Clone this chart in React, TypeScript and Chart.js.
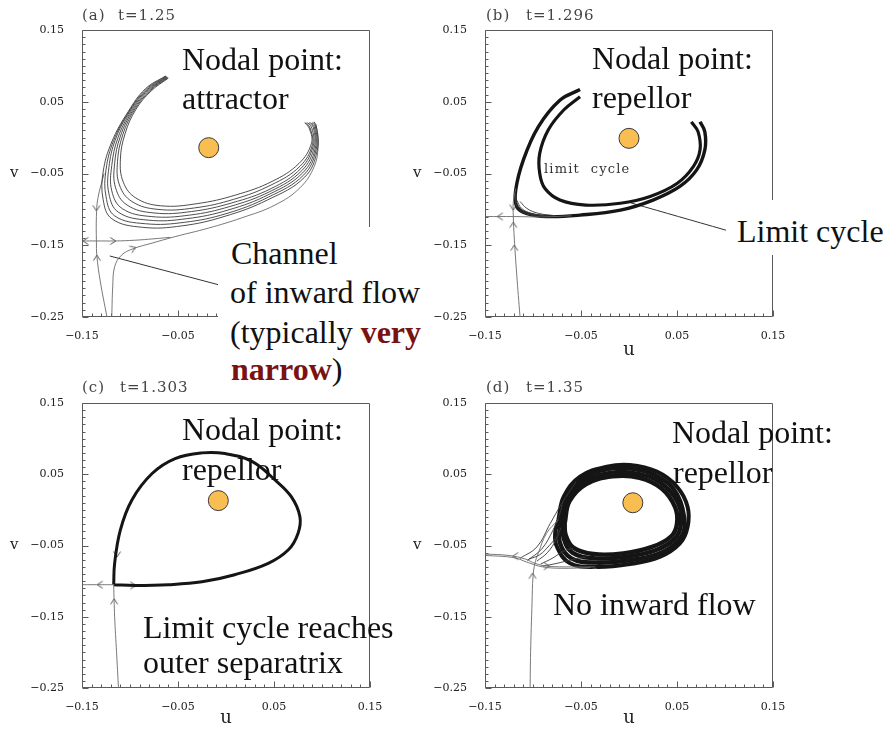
import React, { useEffect, useRef } from 'react';
import { Chart, registerables } from 'chart.js';

Chart.register(...registerables);

type Pt = [number, number];

// ---------------- axes ----------------
const U_MIN = -0.15;
const U_MAX = 0.15;
const V_MIN = -0.25;
const V_MAX = 0.15;
const MINOR_STEP = 0.01;
const U_MAJOR = [-0.15, -0.05, 0.05, 0.15];
const U_LABELS = ['−0.15', '−0.05', '0.05', '0.15'];
const V_MAJOR = [-0.25, -0.15, -0.05, 0.05, 0.15];
const V_LABELS = ['−0.25', '−0.15', '−0.05', '0.05', '0.15'];

// ---------------- panel (a) t=1.25 ----------------
const A_NODE: Pt = [-0.018, -0.014];
const A_C1: Pt[] = [[-0.060,0.083],[-0.078,0.065],[-0.094,0.039],[-0.105,0.006],[-0.110,-0.030],[-0.107,-0.062],[-0.094,-0.084],[-0.068,-0.095],[-0.030,-0.092],[0.010,-0.080],[0.048,-0.061],[0.076,-0.036],[0.089,-0.008],[0.087,0.012],[0.082,0.021]];
const A_C2: Pt[] = [[-0.0605,0.0835],[-0.079,0.0655],[-0.0955,0.0385],[-0.1075,0.004],[-0.113,-0.033],[-0.111,-0.066],[-0.098,-0.089],[-0.071,-0.100],[-0.033,-0.098],[0.008,-0.086],[0.047,-0.066],[0.077,-0.040],[0.090,-0.010],[0.088,0.012],[0.0835,0.021]];
const A_C3: Pt[] = [[-0.061,0.084],[-0.080,0.066],[-0.097,0.038],[-0.110,0.002],[-0.116,-0.036],[-0.115,-0.070],[-0.103,-0.094],[-0.075,-0.105],[-0.036,-0.103],[0.006,-0.091],[0.047,-0.071],[0.078,-0.043],[0.091,-0.011],[0.0895,0.013],[0.085,0.021]];
const A_C4: Pt[] = [[-0.0615,0.0845],[-0.081,0.0665],[-0.0985,0.0375],[-0.1125,0.000],[-0.119,-0.039],[-0.119,-0.074],[-0.108,-0.099],[-0.078,-0.110],[-0.038,-0.108],[0.004,-0.096],[0.046,-0.075],[0.079,-0.046],[0.092,-0.013],[0.091,0.014],[0.0865,0.021]];
const A_C5: Pt[] = [[-0.062,0.085],[-0.082,0.067],[-0.100,0.037],[-0.115,-0.002],[-0.122,-0.042],[-0.122,-0.078],[-0.112,-0.104],[-0.081,-0.115],[-0.041,-0.113],[0.002,-0.101],[0.045,-0.079],[0.080,-0.049],[0.093,-0.015],[0.092,0.015],[0.088,0.021]];
const A_C6: Pt[] = [[-0.0625,0.0855],[-0.083,0.0675],[-0.101,0.0365],[-0.117,-0.004],[-0.125,-0.045],[-0.125,-0.082],[-0.116,-0.109],[-0.084,-0.120],[-0.043,-0.118],[0.000,-0.106],[0.044,-0.083],[0.081,-0.052],[0.094,-0.016],[0.093,0.016],[0.0895,0.021]];
const A_C7: Pt[] = [[-0.063,0.086],[-0.084,0.068],[-0.102,0.036],[-0.119,-0.006],[-0.128,-0.048],[-0.128,-0.086],[-0.119,-0.113],[-0.087,-0.125],[-0.046,-0.123],[-0.002,-0.110],[0.043,-0.087],[0.082,-0.055],[0.095,-0.018],[0.094,0.017],[0.091,0.022]];
const A_CHANNEL: Pt[] = [[-0.119,-0.25],[-0.118,-0.208],[-0.116,-0.180],[-0.109,-0.164],[-0.097,-0.155],[-0.077,-0.147],[-0.053,-0.138],[-0.018,-0.126],[0.016,-0.112],[0.051,-0.094],[0.077,-0.070],[0.092,-0.040],[0.096,-0.012],[0.095,0.010],[0.092,0.022]];
const A_HSEP: Pt[] = [[-0.149,-0.144],[-0.135,-0.144],[-0.115,-0.144],[-0.095,-0.143],[-0.075,-0.141],[-0.058,-0.139]];
const A_VSEP: Pt[] = [[-0.127,-0.050],[-0.1335,-0.085],[-0.135,-0.110],[-0.135,-0.144],[-0.1345,-0.165],[-0.131,-0.200],[-0.124,-0.25]];
const A_POINTER: Pt[] = [[-0.121,-0.165],[-0.008,-0.205]];
const A_ARROWS: Pt[] = [[-0.135,-0.098],[-0.146,-0.144],[-0.118,-0.144],[-0.1345,-0.168],[-0.097,-0.1545]];
const A_ARROW_DIR = [90, 180, 0, -90, -22];

// ---------------- panel (b) t=1.296 ----------------
const B_NODE: Pt = [0.0, -0.001];
const B_OUTER: Pt[] = [[-0.051,0.067],[-0.072,0.052],[-0.0945,0.015],[-0.110,-0.031],[-0.118,-0.073],[-0.117,-0.096],[-0.107,-0.1055],[-0.086,-0.110],[-0.051,-0.108],[-0.009,-0.101],[0.025,-0.087],[0.053,-0.068],[0.0705,-0.045],[0.079,-0.017],[0.079,0.008],[0.074,0.022]];
const B_INNER: Pt[] = [[-0.051,0.057],[-0.068,0.0385],[-0.084,0.011],[-0.093,-0.022],[-0.093,-0.050],[-0.0875,-0.071],[-0.072,-0.087],[-0.045,-0.094],[-0.009,-0.0915],[0.022,-0.082],[0.050,-0.064],[0.067,-0.0405],[0.074,-0.017],[0.072,0.008],[0.065,0.022]];
const B_HSEP: Pt[] = [[-0.149,-0.110],[-0.120,-0.110],[-0.090,-0.1105],[-0.060,-0.109]];
const B_VSEP: Pt[] = [[-0.118,-0.071],[-0.1205,-0.090],[-0.1205,-0.110],[-0.1195,-0.140],[-0.117,-0.190],[-0.1135,-0.25]];
const B_FAN1: Pt[] = [[-0.119,-0.082],[-0.115,-0.096],[-0.1066,-0.1046],[-0.089,-0.109]];
const B_FAN2: Pt[] = [[-0.117,-0.087],[-0.112,-0.0985],[-0.1015,-0.1055],[-0.082,-0.110]];
const B_FAN3: Pt[] = [[-0.1135,-0.089],[-0.1066,-0.0985],[-0.0945,-0.1055],[-0.076,-0.109]];
const B_FAN4: Pt[] = [[-0.118,-0.078],[-0.118,-0.092],[-0.111,-0.104],[-0.095,-0.110]];
const B_POINTER: Pt[] = [[0.002,-0.091],[0.101,-0.129]];
const B_ARROWS: Pt[] = [[-0.134,-0.110],[-0.1205,-0.097],[-0.1205,-0.122],[-0.1195,-0.154]];
const B_ARROW_DIR = [180, 90, -90, -90];

// ---------------- panel (c) t=1.303 ----------------
const C_NODE: Pt = [-0.008, 0.013];
const C_CYCLE: Pt[] = [[-0.117,-0.105],[-0.116,-0.075],[-0.110,-0.028],[-0.098,0.014],[-0.077,0.051],[-0.053,0.072],[-0.025,0.080],[-0.001,0.079],[0.027,0.068],[0.051,0.042],[0.068,0.0185],[0.077,-0.0096],[0.075,-0.033],[0.065,-0.056],[0.044,-0.075],[0.009,-0.091],[-0.025,-0.101],[-0.060,-0.105],[-0.095,-0.106],[-0.117,-0.105]];
const C_HSEP: Pt[] = [[-0.149,-0.105],[-0.130,-0.105],[-0.117,-0.105]];
const C_VSEP: Pt[] = [[-0.117,-0.105],[-0.116,-0.150],[-0.114,-0.200],[-0.112,-0.25]];
const C_ARROWS: Pt[] = [[-0.131,-0.105],[-0.097,-0.106],[-0.1165,-0.129],[-0.1135,-0.062]];
const C_ARROW_DIR = [180, 0, -90, 92];

// ---------------- panel (d) t=1.35 ----------------
const D_NODE: Pt = [0.004, 0.010];
const D_L1: Pt[] = [[-0.067,-0.019],[-0.062,0.012],[-0.045,0.036],[-0.017,0.047],[0.011,0.045],[0.034,0.030],[0.048,0.004],[0.050,-0.019],[0.044,-0.037],[0.024,-0.052],[-0.006,-0.061],[-0.037,-0.062],[-0.058,-0.053],[-0.066,-0.035],[-0.067,-0.019]];
const D_L2: Pt[] = [[-0.069,-0.017],[-0.064,0.015],[-0.047,0.040],[-0.019,0.052],[0.008,0.051],[0.033,0.038],[0.051,0.010],[0.054,-0.020],[0.048,-0.040],[0.027,-0.057],[-0.004,-0.066],[-0.036,-0.068],[-0.059,-0.060],[-0.068,-0.040],[-0.069,-0.017]];
const D_L3: Pt[] = [[-0.071,-0.0155],[-0.066,0.017],[-0.049,0.044],[-0.021,0.0575],[0.004,0.0575],[0.031,0.046],[0.050,0.022],[0.058,-0.022],[0.051,-0.044],[0.030,-0.062],[-0.002,-0.071],[-0.035,-0.074],[-0.060,-0.068],[-0.072,-0.046],[-0.071,-0.0155]];
const D_L4: Pt[] = [[-0.0736,-0.014],[-0.068,0.0185],[-0.051,0.0466],[-0.023,0.0606],[0.001,0.063],[0.029,0.0536],[0.050,0.0325],[0.061,0.0045],[0.061,-0.024],[0.053,-0.047],[0.032,-0.066],[0.001,-0.076],[-0.034,-0.080],[-0.0615,-0.075],[-0.075,-0.052],[-0.077,-0.033],[-0.0736,-0.014]];
const D_H1: Pt[] = [[-0.149,-0.062],[-0.125,-0.064],[-0.108,-0.069],[-0.098,-0.075],[-0.085,-0.079],[-0.060,-0.080],[-0.035,-0.080]];
const D_H2: Pt[] = [[-0.149,-0.064],[-0.120,-0.067],[-0.105,-0.074],[-0.090,-0.080],[-0.070,-0.082],[-0.040,-0.081]];
const D_VSEP: Pt[] = [[-0.103,-0.25],[-0.1025,-0.200],[-0.101,-0.130],[-0.100,-0.094],[-0.098,-0.075],[-0.0945,-0.061],[-0.086,-0.033],[-0.0736,-0.014]];
const D_F1: Pt[] = [[-0.1135,-0.068],[-0.096,-0.052],[-0.082,-0.019],[-0.070,0.009],[-0.055,0.040]];
const D_F2: Pt[] = [[-0.106,-0.071],[-0.091,-0.055],[-0.079,-0.028],[-0.072,-0.005],[-0.069,0.012]];
const D_F3: Pt[] = [[-0.096,-0.072],[-0.085,-0.060],[-0.076,-0.042],[-0.071,-0.025]];
const D_F4: Pt[] = [[-0.092,-0.076],[-0.080,-0.068],[-0.068,-0.058],[-0.058,-0.054]];
const D_F5: Pt[] = [[-0.090,-0.079],[-0.075,-0.075],[-0.060,-0.070],[-0.045,-0.066]];
const D_F6: Pt[] = [[-0.104,-0.069],[-0.093,-0.063],[-0.083,-0.050],[-0.074,-0.036]];
const D_ARROWS: Pt[] = [[-0.118,-0.065],[-0.1005,-0.093],[-0.086,-0.079]];
const D_ARROW_DIR = [180, -90, 0];

// ---------------- chart helpers ----------------
interface LineSpec { pts: Pt[]; color: string; width: number; }
interface PanelSpec {
  lines: LineSpec[];
  arrows: Pt[];
  arrowDir: number[];
  node: Pt;
  yW: number;
  xH: number;
  padTop: number;
  padRight: number;
  titlePad: number;
}

const thin = (pts: Pt[]): LineSpec => ({ pts, color: '#3a3a3a', width: 0.9 });
const sep = (pts: Pt[]): LineSpec => ({ pts, color: '#6a6a6a', width: 0.9 });
const thick = (pts: Pt[], w = 3): LineSpec => ({ pts, color: '#151515', width: w });
const pointer = (pts: Pt[]): LineSpec => ({ pts, color: '#333', width: 1 });

const near = (v: number, list: number[]) => list.findIndex((m) => Math.abs(m - v) < 1e-6);

function chevron(): HTMLCanvasElement {
  const c = document.createElement('canvas');
  c.width = 12;
  c.height = 12;
  const g = c.getContext('2d')!;
  g.strokeStyle = '#555';
  g.lineWidth = 1;
  g.beginPath();
  g.moveTo(3.5, 2.5);
  g.lineTo(9, 6);
  g.lineTo(3.5, 9.5);
  g.stroke();
  return c;
}

const frameTicks = {
  id: 'frameTicks',
  beforeDatasetsDraw(chart: any) {
    const { ctx, chartArea: a, scales } = chart;
    const l = Math.round(a.left) + 0.5;
    const r = Math.round(a.right) - 0.5;
    const t = Math.round(a.top) + 0.5;
    const b = Math.round(a.bottom) - 0.5;
    ctx.save();
    ctx.strokeStyle = '#5a5a5a';
    ctx.lineWidth = 1;
    ctx.beginPath();
    ctx.moveTo(l, t); ctx.lineTo(r, t); ctx.lineTo(r, b); ctx.lineTo(l, b); ctx.closePath();
    ctx.stroke();
    ctx.beginPath();
    for (const tk of scales.x.ticks) {
      const px = Math.round(scales.x.getPixelForValue(tk.value)) + 0.5;
      const len = near(tk.value, U_MAJOR) >= 0 ? 6 : 3;
      ctx.moveTo(px, b); ctx.lineTo(px, b - len);
    }
    for (const tk of scales.y.ticks) {
      const py = Math.round(scales.y.getPixelForValue(tk.value)) + 0.5;
      const len = near(tk.value, V_MAJOR) >= 0 ? 6 : 3;
      ctx.moveTo(l, py); ctx.lineTo(l + len, py);
    }
    ctx.stroke();
    ctx.restore();
  },
};

function buildChart(canvas: HTMLCanvasElement, spec: PanelSpec) {
  const tickFont = { family: 'DejaVu Serif', size: 11 };
  const datasets: any[] = spec.lines.map((ln) => ({
    data: ln.pts.map(([x, y]) => ({ x, y })),
    showLine: true,
    borderColor: ln.color,
    borderWidth: ln.width,
    pointRadius: 0,
    tension: 0.4,
    fill: false,
  }));
  const chev = chevron();
  datasets.push({
    data: spec.arrows.map(([x, y]) => ({ x, y })),
    showLine: false,
    pointStyle: chev,
    pointRadius: 5,
    pointRotation: (c: any) => spec.arrowDir[c.dataIndex] ?? 0,
  });
  datasets.push({
    data: [{ x: spec.node[0], y: spec.node[1] }],
    showLine: false,
    pointRadius: 10,
    pointBackgroundColor: '#F9BE52',
    pointBorderColor: '#3a3a3a',
    pointBorderWidth: 1,
  });
  return new Chart(canvas, {
    type: 'scatter',
    data: { datasets },
    plugins: [frameTicks],
    options: {
      responsive: false,
      animation: false,
      devicePixelRatio: 1,
      events: [],
      layout: { padding: { top: spec.padTop, right: spec.padRight, left: 0, bottom: 0 } },
      plugins: { legend: { display: false }, tooltip: { enabled: false } },
      elements: { line: { capBezierPoints: false } },
      scales: {
        x: {
          type: 'linear',
          min: U_MIN,
          max: U_MAX,
          afterFit: (s: any) => { s.height = spec.xH; },
          grid: { display: false },
          border: { display: false },
          ticks: {
            stepSize: MINOR_STEP,
            autoSkip: false,
            maxRotation: 0,
            minRotation: 0,
            padding: 5,
            color: '#222',
            font: tickFont,
            callback: (v: any) => { const i = near(Number(v), U_MAJOR); return i >= 0 ? U_LABELS[i] : ''; },
          },
          title: { display: true, text: 'u', color: '#222', font: { family: 'DejaVu Serif', size: 18 }, padding: { top: 0, bottom: spec.titlePad } },
        },
        y: {
          type: 'linear',
          min: V_MIN,
          max: V_MAX,
          afterFit: (s: any) => { s.width = spec.yW; },
          grid: { display: false },
          border: { display: false },
          ticks: {
            stepSize: MINOR_STEP,
            autoSkip: false,
            padding: 10,
            color: '#222',
            font: tickFont,
            callback: (v: any) => { const i = near(Number(v), V_MAJOR); return i >= 0 ? V_LABELS[i] : ''; },
          },
        },
      },
    } as any,
  });
}

const PANELS: PanelSpec[] = [
  {
    lines: [thin(A_C1), thin(A_C2), thin(A_C3), thin(A_C4), thin(A_C5), thin(A_C6), thin(A_C7), sep(A_CHANNEL), sep(A_HSEP), sep(A_VSEP), pointer(A_POINTER)],
    arrows: A_ARROWS, arrowDir: A_ARROW_DIR, node: A_NODE,
    yW: 82, xH: 48, padTop: 30, padRight: 60, titlePad: 4,
  },
  {
    lines: [sep(B_HSEP), sep(B_VSEP), thin(B_FAN1), thin(B_FAN2), thin(B_FAN3), thin(B_FAN4), thick(B_OUTER, 3.4), thick(B_INNER, 3.2), pointer(B_POINTER)],
    arrows: B_ARROWS, arrowDir: B_ARROW_DIR, node: B_NODE,
    yW: 55, xH: 48, padTop: 30, padRight: 115, titlePad: 4,
  },
  {
    lines: [sep(C_HSEP), sep(C_VSEP), thick(C_CYCLE, 3)],
    arrows: C_ARROWS, arrowDir: C_ARROW_DIR, node: C_NODE,
    yW: 82, xH: 42, padTop: 38, padRight: 60, titlePad: 1,
  },
  {
    lines: [sep(D_H1), sep(D_H2), sep(D_VSEP), thin(D_F1), thin(D_F2), thin(D_F3), thin(D_F4), thin(D_F5), thin(D_F6), thick(D_L1, 4.4), thick(D_L2, 4.4), thick(D_L3, 4.4), thick(D_L4, 4)],
    arrows: D_ARROWS, arrowDir: D_ARROW_DIR, node: D_NODE,
    yW: 55, xH: 42, padTop: 38, padRight: 115, titlePad: 1,
  },
];

const CANVAS_BOXES = [
  { left: 0, top: 0, width: 430, height: 365 },
  { left: 430, top: 0, width: 458, height: 365 },
  { left: 0, top: 365, width: 430, height: 365 },
  { left: 430, top: 365, width: 458, height: 365 },
];

function Panel({ spec, box }: { spec: PanelSpec; box: { left: number; top: number; width: number; height: number } }) {
  const ref = useRef<HTMLCanvasElement | null>(null);
  useEffect(() => {
    if (!ref.current) return;
    const chart = buildChart(ref.current, spec);
    return () => chart.destroy();
  }, [spec]);
  return (
    <canvas
      ref={ref}
      width={box.width}
      height={box.height}
      style={{ position: 'absolute', left: box.left, top: box.top, width: box.width, height: box.height }}
    />
  );
}

const BIG: React.CSSProperties = {
  position: 'absolute',
  fontFamily: "'Liberation Serif', 'Times New Roman', serif",
  fontSize: 32,
  lineHeight: '32px',
  color: '#111',
  whiteSpace: 'pre',
};
const TITLE: React.CSSProperties = {
  position: 'absolute',
  fontFamily: "'DejaVu Serif', serif",
  fontSize: 15,
  lineHeight: '15px',
  letterSpacing: 1,
  color: '#444',
  whiteSpace: 'pre',
};
const AXV: React.CSSProperties = {
  position: 'absolute',
  fontFamily: "'DejaVu Serif', serif",
  fontSize: 15,
  lineHeight: '15px',
  color: '#222',
};
const RED: React.CSSProperties = { color: '#7A1212', fontWeight: 'bold' };

export default function App() {
  return (
    <div style={{ position: 'absolute', left: 0, top: 0, width: 888, height: 730, background: '#fff', overflow: 'hidden' }}>
      {PANELS.map((p, i) => (
        <Panel key={i} spec={p} box={CANVAS_BOXES[i]} />
      ))}

      {/* panel titles */}
      <div style={{ ...TITLE, left: 82, top: 8 }}>(a)</div>
      <div style={{ ...TITLE, left: 118, top: 8 }}>t=1.25</div>
      <div style={{ ...TITLE, left: 486, top: 8 }}>(b)</div>
      <div style={{ ...TITLE, left: 526, top: 8 }}>t=1.296</div>
      <div style={{ ...TITLE, left: 82, top: 380 }}>(c)</div>
      <div style={{ ...TITLE, left: 120, top: 380 }}>t=1.303</div>
      <div style={{ ...TITLE, left: 486, top: 380 }}>(d)</div>
      <div style={{ ...TITLE, left: 526, top: 380 }}>t=1.35</div>

      {/* v axis labels */}
      <div style={{ ...AXV, left: 10, top: 165 }}>v</div>
      <div style={{ ...AXV, left: 413, top: 165 }}>v</div>
      <div style={{ ...AXV, left: 10, top: 537 }}>v</div>
      <div style={{ ...AXV, left: 413, top: 537 }}>v</div>

      {/* panel (a) annotations */}
      <div style={{ ...BIG, left: 182, top: 42.5 }}>Nodal point:</div>
      <div style={{ ...BIG, left: 182, top: 81.5 }}>attractor</div>
      <div style={{ position: 'absolute', left: 218, top: 227, width: 208, height: 160, background: '#fff' }} />
      <div style={{ ...BIG, left: 231, top: 237 }}>Channel</div>
      <div style={{ ...BIG, left: 230, top: 276 }}>of inward flow</div>
      <div style={{ ...BIG, left: 230, top: 316 }}>(typically <span style={RED}>very</span></div>
      <div style={{ ...BIG, left: 231, top: 353 }}><span style={RED}>narrow</span>)</div>

      {/* panel (b) annotations */}
      <div style={{ ...BIG, left: 592, top: 41.5 }}>Nodal point:</div>
      <div style={{ ...BIG, left: 592, top: 81 }}>repellor</div>
      <div style={{ position: 'absolute', left: 733, top: 200, width: 155, height: 55, background: '#fff' }} />
      <div style={{ ...BIG, left: 737, top: 215 }}>Limit cycle</div>
      <div style={{ position: 'absolute', left: 544, top: 162, fontFamily: "'DejaVu Serif', serif", fontSize: 13, lineHeight: '13px', letterSpacing: 1.2, color: '#333', whiteSpace: 'pre' }}>limit  cycle</div>

      {/* panel (c) annotations */}
      <div style={{ ...BIG, left: 182, top: 413 }}>Nodal point:</div>
      <div style={{ ...BIG, left: 182, top: 453 }}>repellor</div>
      <div style={{ ...BIG, left: 143, top: 611 }}>Limit cycle reaches</div>
      <div style={{ ...BIG, left: 143, top: 646 }}>outer separatrix</div>

      {/* panel (d) annotations */}
      <div style={{ ...BIG, left: 672, top: 416 }}>Nodal point:</div>
      <div style={{ ...BIG, left: 673, top: 456 }}>repellor</div>
      <div style={{ ...BIG, left: 553, top: 588 }}>No inward flow</div>
    </div>
  );
}
